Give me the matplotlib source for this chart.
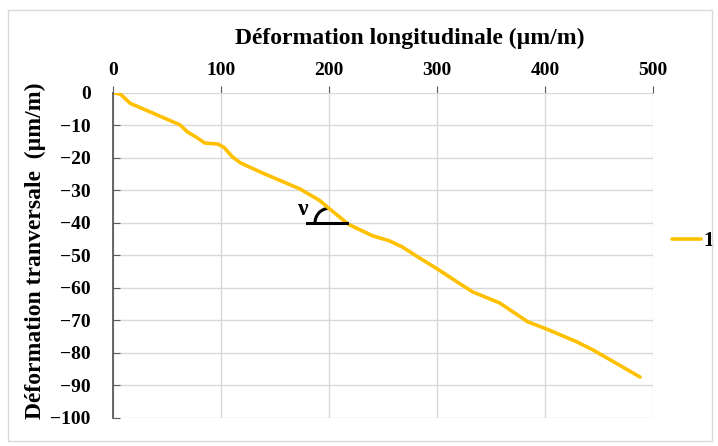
import matplotlib.pyplot as plt
from matplotlib.patches import Arc, Rectangle

# data
long_def = [2, 7, 16, 37, 62, 69, 78, 85, 97, 103, 110, 118, 139, 173, 191, 200,
            218, 240, 256, 268, 284, 302, 318, 333, 358, 384, 402, 429, 444, 463, 488]
trans_def = [0, -0.4, -3.2, -6.2, -9.8, -12, -13.8, -15.4, -15.7, -16.8, -19.5, -21.5,
             -24.7, -29.5, -33, -35.5, -40.4, -43.9, -45.5, -47.4, -50.8, -54.5, -58,
             -61.2, -64.6, -70.4, -72.7, -76.5, -79, -82.6, -87.4]
x_ticks = [0, 100, 200, 300, 400, 500]
y_ticks = [0, -10, -20, -30, -40, -50, -60, -70, -80, -90, -100]
series_name = "1"

plt.rcParams['font.family'] = ['Liberation Serif', 'DejaVu Serif']
plt.rcParams['font.weight'] = 'bold'

fig = plt.figure(figsize=(7.18, 4.46), dpi=100)
ax = fig.add_axes([0.1574, 0.0628, 0.9095 - 0.1574, 0.7915 - 0.0628])

# chart area border
fig.patches.append(Rectangle((0.011, 0.012), 0.98, 0.965, transform=fig.transFigure,
                             fill=False, edgecolor='#d9d9d9', lw=1))

ax.plot(long_def, trans_def, color='#FFC000', lw=2.6, label=series_name,
        solid_capstyle='round', solid_joinstyle='round')

ax.set_xlim(0, 500)
ax.set_ylim(-100, 0)
ax.set_xticks(x_ticks)
ax.set_yticks(y_ticks)
ax.xaxis.tick_top()
ax.xaxis.set_label_position('top')
ax.grid(True, color='#d9d9d9', lw=1)
ax.set_axisbelow(True)

for side in ['top', 'right', 'bottom']:
    ax.spines[side].set_visible(False)
ax.spines['left'].set_color('#595959')
ax.spines['left'].set_linewidth(1.3)

ax.tick_params(axis='x', direction='out', length=5, color='#595959', pad=5, labelsize=14)
ax.tick_params(axis='y', direction='in', length=5, color='#595959', pad=16, labelsize=14)
for lab in ax.get_xticklabels() + ax.get_yticklabels():
    lab.set_fontweight('bold')

fig.text(0.571, 0.915, "Déformation longitudinale (µm/m)", ha='center', va='center',
         fontsize=17, fontweight='bold')
fig.text(0.049, 0.437, "Déformation tranversale  (µm/m)", ha='center', va='center',
         rotation=90, fontsize=17, fontweight='bold')

# Poisson angle annotation
ax.plot([180, 217], [-40, -40], color='black', lw=2.2)
ax.add_patch(Arc((200, -40), 26, 9, theta1=90, theta2=180, color='black', lw=2.2))
ax.text(176, -36, "ν", fontsize=17, fontweight='bold', ha='center', va='center')

leg = ax.legend(loc='center left', bbox_to_anchor=(1.035, 0.545), frameon=False,
                handlelength=1.4, handletextpad=0.1, borderpad=0, borderaxespad=0,
                fontsize=15)
for t in leg.get_texts():
    t.set_fontweight('bold')

fig.savefig('out.png', dpi=100)
